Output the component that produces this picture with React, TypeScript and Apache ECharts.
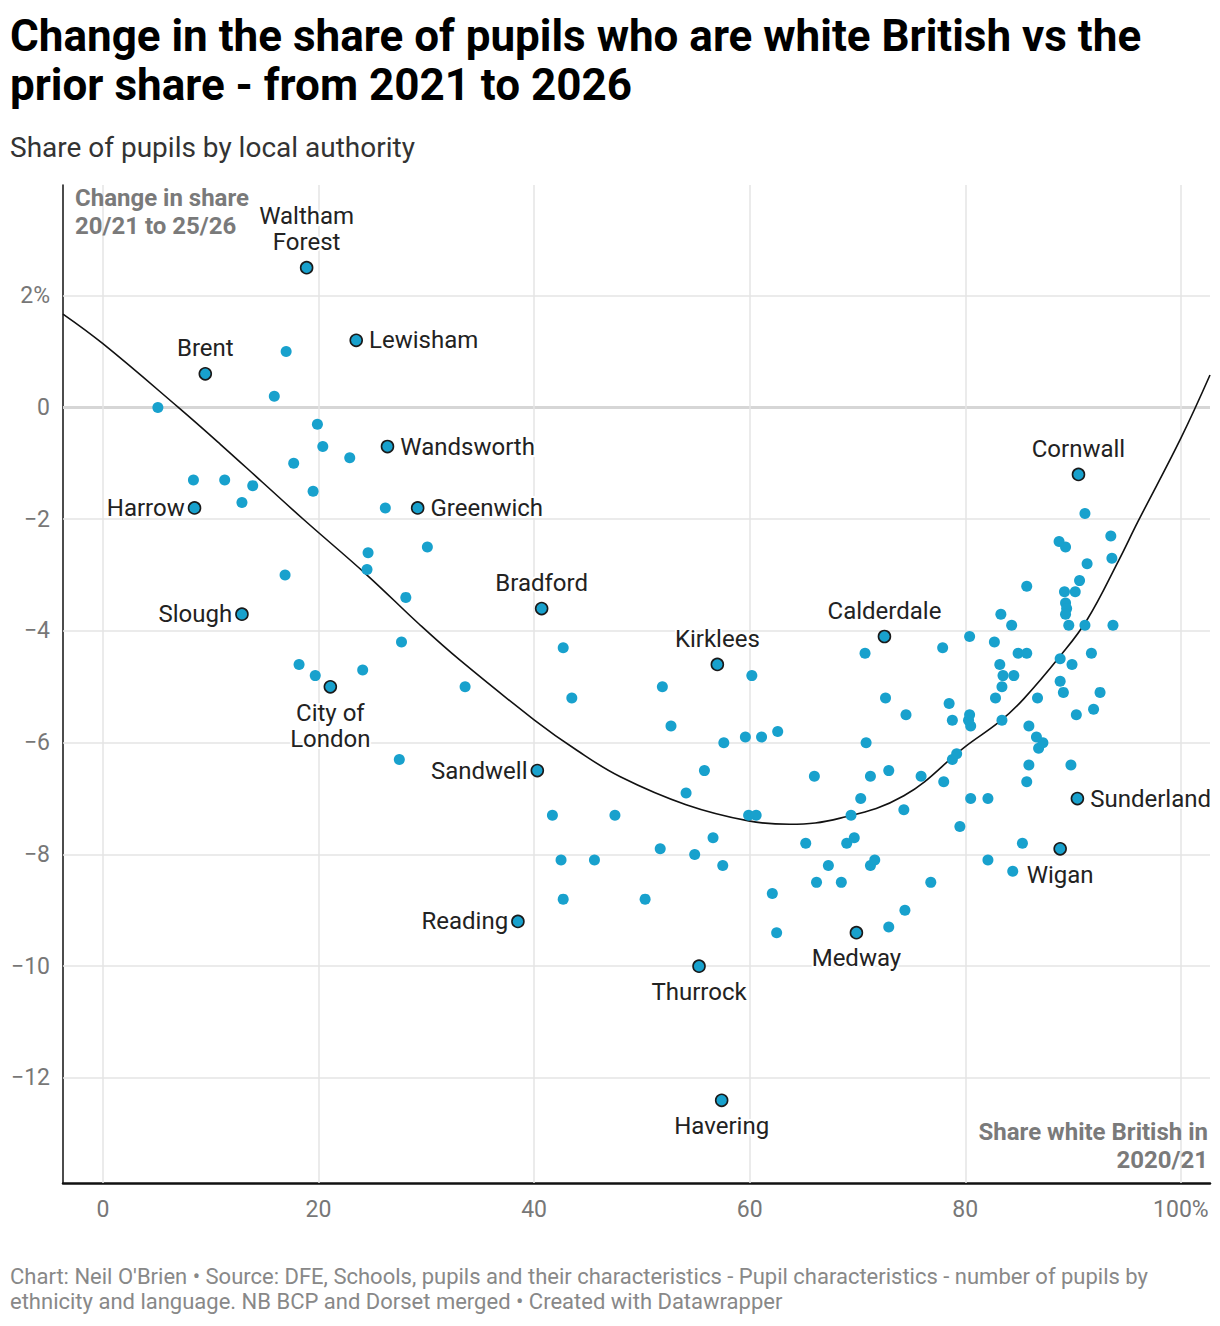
import React, { useEffect, useRef } from "react";
import * as echarts from "echarts";

const xTicks = [0, 20, 40, 60, 80, 100];
const xTickLabels = ["0", "20", "40", "60", "80", "100%"];
const yTicks = [2, 0, -2, -4, -6, -8, -10, -12];
const yTickLabels = ["2%", "0", "\u22122", "\u22124", "\u22126", "\u22128", "\u221210", "\u221212"];

// Unlabelled local authorities: [share white British 2020/21, change in share]
const otherPoints: [number, number][] = [
  [17.0, 1.0], [15.9, 0.2], [5.1, 0.0], [19.9, -0.3], [20.4, -0.7], [22.9, -0.9], [17.7, -1.0],
  [8.4, -1.3], [11.3, -1.3], [13.9, -1.4], [19.5, -1.5], [12.9, -1.7], [26.2, -1.8],
  [24.6, -2.6], [30.1, -2.5], [24.5, -2.9], [16.9, -3.0], [28.1, -3.4], [27.7, -4.2],
  [18.2, -4.6], [19.7, -4.8], [24.1, -4.7], [27.5, -6.3],
  [33.6, -5.0], [42.7, -4.3], [43.5, -5.2], [51.9, -5.0], [52.7, -5.7], [60.2, -4.8],
  [57.6, -6.0], [59.6, -5.9], [61.1, -5.9], [62.6, -5.8], [55.8, -6.5], [54.1, -6.9],
  [59.9, -7.3], [60.6, -7.3], [66.0, -6.6], [41.7, -7.3], [47.5, -7.3], [56.6, -7.7],
  [51.7, -7.9], [54.9, -8.0], [57.5, -8.2], [65.2, -7.8], [42.5, -8.1], [45.6, -8.1],
  [42.7, -8.8], [50.3, -8.8], [62.1, -8.7], [62.5, -9.4], [67.3, -8.2], [66.2, -8.5],
  [74.5, -5.5], [70.8, -6.0], [71.2, -6.6], [72.9, -6.5], [75.9, -6.6], [78.0, -6.7],
  [78.8, -6.3], [79.2, -6.2], [70.3, -7.0], [69.4, -7.3], [74.3, -7.2], [80.5, -7.0],
  [82.1, -7.0], [79.5, -7.5], [69.0, -7.8], [69.7, -7.7], [71.2, -8.2], [71.6, -8.1],
  [68.5, -8.5], [76.8, -8.5], [74.4, -9.0], [72.9, -9.3], [82.1, -8.1], [84.4, -8.3],
  [85.3, -7.8], [89.8, -6.4], [85.7, -6.7], [85.9, -6.4], [86.8, -6.1], [87.2, -6.0],
  [86.6, -5.9], [85.9, -5.7], [83.4, -5.6], [80.5, -5.7], [80.3, -5.6], [80.4, -5.5],
  [78.8, -5.6], [78.5, -5.3], [90.3, -5.5], [91.9, -5.4], [82.8, -5.2], [86.7, -5.2],
  [72.6, -5.2],
  [91.1, -1.9], [88.7, -2.4], [89.3, -2.5], [93.5, -2.3], [93.6, -2.7], [91.3, -2.8],
  [90.6, -3.1], [85.7, -3.2], [89.2, -3.3], [90.2, -3.3], [89.3, -3.5], [89.4, -3.6],
  [89.3, -3.7], [83.3, -3.7], [84.3, -3.9], [89.6, -3.9], [91.1, -3.9], [93.7, -3.9],
  [80.4, -4.1], [82.7, -4.2], [77.9, -4.3], [70.7, -4.4], [84.9, -4.4], [85.7, -4.4],
  [91.7, -4.4], [88.8, -4.5], [83.2, -4.6], [89.9, -4.6], [83.5, -4.8], [84.5, -4.8],
  [83.4, -5.0], [88.8, -4.9], [89.1, -5.1], [92.5, -5.1],
];

const labelledNames = [
  "Waltham\nForest", "Lewisham", "Brent", "Wandsworth", "Harrow", "Greenwich", "Slough",
  "City of\nLondon", "Bradford", "Sandwell", "Reading", "Kirklees", "Thurrock", "Havering",
  "Medway", "Calderdale", "Cornwall", "Sunderland", "Wigan",
];
const labelledX = [18.9, 23.5, 9.5, 26.4, 8.5, 29.2, 12.9, 21.1, 40.7, 40.3, 38.5, 57.0, 55.3, 57.4, 69.9, 72.5, 90.5, 90.4, 88.8];
const labelledY = [2.5, 1.2, 0.6, -0.7, -1.8, -1.8, -3.7, -5.0, -3.6, -6.5, -9.2, -4.6, -10.0, -12.4, -9.4, -4.1, -1.2, -7.0, -7.9];

// Trend line
const trendX = [-3.7, 0, 7.0, 10.9, 14.8, 18.7, 24.5, 29.4, 33.1, 40.0, 44.0, 48.0, 54.1, 59.9, 63.7, 68.4, 74.3, 80.0, 83.2, 85.4, 88.8, 91.3, 94.2, 96.0, 100, 102.7];
const trendY = [1.67, 1.14, 0.0, -0.66, -1.34, -2.02, -3.0, -3.89, -4.52, -5.59, -6.14, -6.61, -7.11, -7.40, -7.46, -7.35, -6.95, -6.07, -5.62, -5.22, -4.45, -3.80, -2.75, -2.05, -0.55, 0.58];

const labelPlacement: Record<string, string> = {
  "Waltham\nForest": "top", Lewisham: "right", Brent: "top", Wandsworth: "right", Harrow: "left",
  Greenwich: "right", Slough: "left", "City of\nLondon": "bottom", Bradford: "top", Sandwell: "left",
  Reading: "left", Kirklees: "top", Thurrock: "bottom", Havering: "bottom", Medway: "bottom",
  Calderdale: "top", Cornwall: "top", Sunderland: "right", Wigan: "bottom",
};

const FONT = "Roboto, 'Noto Sans', sans-serif";

export default function App() {
  const ref = useRef<HTMLDivElement>(null);
  useEffect(() => {
    document.body.style.margin = "0";
    if (!ref.current) return;
    const chart = echarts.init(ref.current, undefined, { renderer: "svg" });
    const gridLines: any[] = [];
    yTicks.forEach((v, i) => {
      gridLines.push({
        yAxis: v,
        label: { formatter: yTickLabels[i], position: "start", distance: 13 },
        lineStyle: v === 0 ? { color: "#d6d6d6", width: 3, type: "solid" } : { color: "#e5e5e5", width: 1.5, type: "solid" },
      });
    });
    xTicks.forEach((v, i) => {
      gridLines.push({
        xAxis: v,
        label: { formatter: xTickLabels[i], position: "start", distance: 15 },
        lineStyle: { color: "#e5e5e5", width: 1.5, type: "solid" },
      });
    });

    const axisTitle = { fill: "#7a7a7a", font: `bold 24px ${FONT}`, lineHeight: 28 };

    const option: any = {
      animation: false,
      textStyle: { fontFamily: FONT },
      title: [
        {
          text: "Change in the share of pupils who are white British vs the\nprior share - from 2021 to 2026",
          left: 10,
          top: 11,
          padding: 0,
          textStyle: { fontFamily: FONT, fontSize: 44, fontWeight: "bold", color: "#000", lineHeight: 49 },
        },
        {
          text: "Share of pupils by local authority",
          left: 10,
          top: 133,
          padding: 0,
          textStyle: { fontFamily: FONT, fontSize: 28, fontWeight: "normal", color: "#333", lineHeight: 28 },
        },
        {
          text: "Chart: Neil O'Brien • Source: DFE, Schools, pupils and their characteristics - Pupil characteristics - number of pupils by\nethnicity and language. NB BCP and Dorset merged • Created with Datawrapper",
          left: 10,
          top: 1264,
          padding: 0,
          textStyle: { fontFamily: FONT, fontSize: 22, fontWeight: "normal", color: "#888", lineHeight: 25 },
        },
      ],
      grid: { left: 63, right: 10, top: 185, bottom: 143, containLabel: false },
      xAxis: {
        type: "value",
        min: -3.7,
        max: 102.7,
        axisLabel: { show: false },
        axisTick: { show: false },
        splitLine: { show: false },
        axisLine: { show: true, onZero: false, lineStyle: { color: "#111", width: 2.5 } },
      },
      yAxis: {
        type: "value",
        min: -13.88,
        max: 3.98,
        axisLabel: { show: false },
        axisTick: { show: false },
        splitLine: { show: false },
        axisLine: { show: true, onZero: false, lineStyle: { color: "#111", width: 1.5 } },
      },
      graphic: [
        { type: "text", left: 75, top: 184, z: 20, style: { text: "Change in share", ...axisTitle } },
        { type: "text", left: 75, top: 212, z: 20, style: { text: "20/21 to 25/26", ...axisTitle } },
        { type: "text", right: 12, top: 1118, z: 20, style: { text: "Share white British in", ...axisTitle } },
        { type: "text", right: 12, top: 1146, z: 20, style: { text: "2020/21", ...axisTitle } },
      ],
      series: [
        {
          type: "line",
          data: trendX.map((x, i) => [x, trendY[i]]),
          smooth: 0.4,
          symbol: "none",
          z: 6,
          lineStyle: { color: "#111", width: 1.6 },
          silent: true,
          markLine: {
            silent: true,
            symbol: "none",
            z: 1,
            label: { show: true, color: "#777", fontSize: 23, fontFamily: FONT },
            data: gridLines,
          },
        },
        {
          type: "scatter",
          data: otherPoints,
          symbolSize: 11,
          z: 10,
          itemStyle: { color: "#18a1cd", opacity: 1 },
          silent: true,
        },
        {
          type: "scatter",
          z: 11,
          symbolSize: 12,
          itemStyle: { color: "#18a1cd", borderColor: "#1a1a1a", borderWidth: 1.6, opacity: 1 },
          label: {
            show: true,
            formatter: "{b}",
            fontSize: 24,
            fontFamily: FONT,
            color: "#222",
            lineHeight: 26,
            textBorderColor: "#fff",
            textBorderWidth: 4,
            distance: 6,
          },
          labelLayout: { hideOverlap: false },
          data: labelledNames.map((n, i) => ({
            name: n,
            value: [labelledX[i], labelledY[i]],
            label: { position: labelPlacement[n], distance: labelPlacement[n] === "left" ? 3 : 6 },
          })),
          silent: true,
        },
      ],
    };
    chart.setOption(option);
    return () => chart.dispose();
  }, []);
  return <div ref={ref} style={{ width: 1220, height: 1326 }} />;
}
